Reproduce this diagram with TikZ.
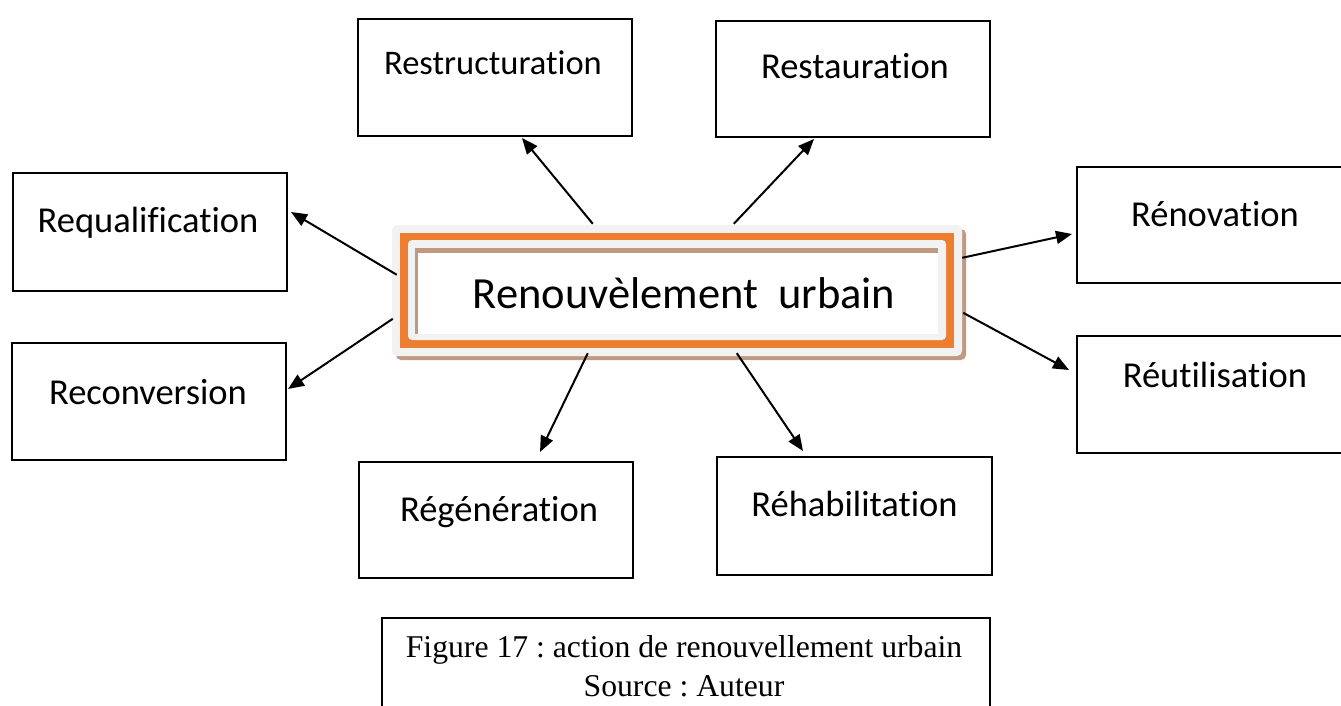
\documentclass[tikz,border=0pt]{standalone}
\usepackage{fontspec}
\setmainfont{Carlito}[Ligatures=NoCommon]
\newfontfamily\capfont{Liberation Serif}
\usetikzlibrary{arrows.meta,calc}
\definecolor{orng}{HTML}{ED7D31}
\definecolor{lgray}{HTML}{F2F2F2}
\definecolor{shadowtan}{HTML}{C09A80}
\frenchspacing
\begin{document}
\begin{tikzpicture}[x=1pt,y=-1pt,
  box/.style={draw=black, line width=2pt, rectangle, inner sep=0pt, fill=white},
  lbl/.style={anchor=base, inner sep=0pt, font=\fontsize{36.5}{44}\selectfont},
  caplbl/.style={anchor=base, inner sep=0pt, font=\capfont\fontsize{31.7}{39}\selectfont},
  arr/.style={line width=2pt, -{Triangle[length=16pt,width=13pt]}},
]
\useasboundingbox (0,0) rectangle (1341,706);
\fill[white] (0,0) rectangle (1341,706);

% outer boxes
\node[box, minimum width=274pt, minimum height=117pt] (rs) at (495,77.5) {};
\node[lbl, font=\fontsize{34.5}{42}\selectfont] (rs-t) at ($(rs.north)+(-2,57)$) {Restructuration};
\node[box, minimum width=274pt, minimum height=116pt] (ra) at (853,79) {};
\node[lbl] (ra-t) at ($(ra.north)+(2,59)$) {Restauration};
\node[box, minimum width=274pt, minimum height=118pt] (rq) at (150,232) {};
\node[lbl] (rq-t) at ($(rq.north)+(-2,60)$) {Requalification};
\node[box, minimum width=274pt, minimum height=117pt] (rc) at (149,401.5) {};
\node[lbl] (rc-t) at ($(rc.north)+(-1,62)$) {Reconversion};
\node[box, minimum width=276pt, minimum height=116pt] (rn) at (1215,225) {};
\node[lbl] (rn-t) at ($(rn.north)+(0,60)$) {Rénovation};
\node[box, minimum width=276pt, minimum height=117pt] (ru) at (1215,394.5) {};
\node[lbl] (ru-t) at ($(ru.north)+(0,52)$) {Réutilisation};
\node[box, minimum width=274pt, minimum height=116pt] (rg) at (496,520) {};
\node[lbl] (rg-t) at ($(rg.north)+(3,60)$) {Régénération};
\node[box, minimum width=275pt, minimum height=118pt] (rh) at (854.5,516) {};
\node[lbl] (rh-t) at ($(rh.north)+(0,60)$) {Réhabilitation};

% central box
\fill[shadowtan, rounded corners=5pt] (396,229) rectangle (966,360);
\node[fill=lgray, rounded corners=5pt, minimum width=570pt, minimum height=131pt, inner sep=0pt] (cen) at (677,290.5) {};
\fill[orng] (400,233) rectangle (954,348);
\fill[lgray, rounded corners=4pt] (408,240) rectangle (946,340);
\fill[shadowtan] (415,248) rectangle (938,334);
\fill[white] (418,253) rectangle (938,334);
\node[anchor=base, inner sep=0pt, font=\fontsize{44.5}{52}\selectfont] (cen-t) at (684,308) {Renouvèlement\ \ urbain};

% arrows
\draw[arr] ($(cen.north west)+(201,-1)$) -- ($(rs.south west)+(165,1)$);
\draw[arr] ($(cen.north west)+(342,-1)$) -- ($(ra.south west)+(99,1)$);
\draw[arr] ($(cen.north west)+(5,50)$) -- ($(rq.north east)+(3,40)$);
\draw[arr] ($(cen.north west)+(1,94)$) -- ($(rc.north east)+(1,47)$);
\draw[arr] ($(cen.north east)+(0,33)$) -- ($(rn.north west)+(-4,68)$);
\draw[arr] ($(cen.north east)+(1,88)$) -- ($(ru.north west)+(-7,35)$);
\draw[arr] ($(cen.south west)+(196,-3)$) -- ($(rg.north west)+(182,-9)$);
\draw[arr] ($(cen.south west)+(345,-3)$) -- ($(rh.north west)+(87,-5)$);

% caption
\node[box, minimum width=608pt, minimum height=142pt] (cap) at (686,689) {};
\node[caplbl] (cap-t1) at ($(cap.north)+(-2,40)$) {Figure 17 : action de renouvellement urbain};
\node[caplbl] (cap-t2) at ($(cap.north)+(-2,79)$) {Source : Auteur};
\end{tikzpicture}
\end{document}
